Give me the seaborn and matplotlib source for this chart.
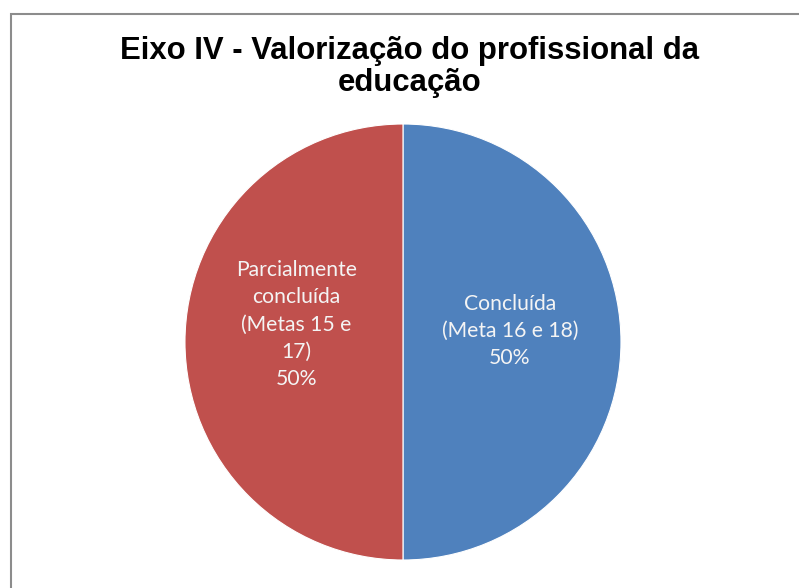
"""Pie chart: Eixo IV - Valorização do profissional da educação."""

import matplotlib.pyplot as plt
import numpy as np
import seaborn as sns
from matplotlib.patches import Rectangle

TITLE = "Eixo IV - Valorização do profissional da\neducação"
CATEGORIES = ["Concluída\n(Meta 16 e 18)", "Parcialmente\nconcluída\n(Metas 15 e\n17)"]
SHARES = [50, 50]
COLORS = ["#4F81BD", "#C0504D"]


def main() -> None:
    sns.set_theme(style="white")
    plt.rcParams["font.family"] = ["Lato", "DejaVu Sans"]

    fig = plt.figure(figsize=(7.99, 5.88), dpi=100)
    fig.patch.set_facecolor("white")

    # chart area frame (only top and left edges are visible in the crop)
    fig.patches.append(Rectangle(
        (11 / 799, -0.2), 1.2, 1 - 14 / 588 + 0.2,
        transform=fig.transFigure, fill=False,
        edgecolor="#8c8c8c", linewidth=1.5,
    ))

    ax = fig.add_axes([0.2315, 0.0476, 0.5457, 0.7415])
    wedges, _ = ax.pie(
        SHARES,
        colors=COLORS,
        startangle=90,
        counterclock=False,
        radius=1.0,
        wedgeprops={"edgecolor": "white", "linewidth": 0.8},
    )
    ax.set_xlim(-1, 1)
    ax.set_ylim(-1, 1)
    ax.set_aspect("equal")

    offsets = [0.05, 0.08]
    for wedge, label, share, dy in zip(wedges, CATEGORIES, SHARES, offsets):
        mid = np.deg2rad((wedge.theta1 + wedge.theta2) / 2)
        x = 0.49 * np.cos(mid)
        y = 0.49 * np.sin(mid) + dy
        ax.text(x, y, f"{label}\n{share}%", ha="center", va="center",
                color="#f4f4f4", fontsize=15.2, linespacing=1.45)

    fig.text(0.512, 0.886, TITLE, ha="center", va="center",
             fontsize=22.4, fontweight="bold", family=["Liberation Sans", "DejaVu Sans"],
             linespacing=1.05, color="black")

    fig.savefig("out.png", dpi=100)
    plt.close(fig)


if __name__ == "__main__":
    main()
